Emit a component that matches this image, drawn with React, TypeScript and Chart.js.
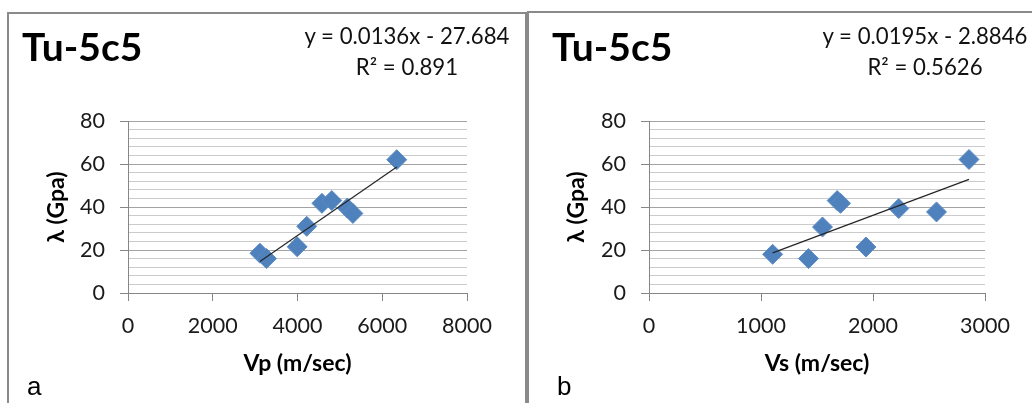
import React, { useEffect, useRef } from "react";
import { Chart, registerables } from "chart.js";

Chart.register(...registerables);

// ---- data ----
const vpValues = [3113, 3268, 3992, 4218, 4576, 4809, 5175, 5307, 6342];
const lambdaByVp = [18.5, 16, 21.5, 31, 41.7, 43, 39.5, 37, 62];
const vsValues = [1104, 1424, 1549, 1680, 1710, 1937, 2230, 2567, 2857];
const lambdaByVs = [18, 16, 30.7, 43, 41.7, 21.4, 39.3, 37.7, 62.1];

const trendVp = [0.0136, -27.684]; // slope, intercept
const trendVs = [0.0195, -2.8846];

const equationA = ["y = 0.0136x - 27.684", "R² = 0.891"];
const equationB = ["y = 0.0195x - 2.8846", "R² = 0.5626"];

const yTickMax = 80;
const yMinorStep = 4;
const yMajorStep = 20;
const xMaxA = 8000;
const xStepA = 2000;
const xMaxB = 3000;
const xStepB = 1000;

const chartTitle = "Tu-5c5";
const yAxisTitle = "λ (Gpa)";
const xTitleA = "Vp (m/sec)";
const xTitleB = "Vs (m/sec)";

// ---- styling ----
const FONT = "Lato, 'Open Sans', sans-serif";
const AXIS = "#868686";
const MAJOR = "#a3a3a3";
const MINOR = "#cbcbcb";
const MARKER = "#4f81bd";
const H = 403;

type PanelCfg = {
  canvasLeft: number;
  canvasWidth: number;
  plotLeft: number; // in canvas coords
  plotRight: number;
  yTitleOffset: number;
  xs: number[];
  ys: number[];
  trend: number[];
  xMax: number;
  xStep: number;
  xTitle: string;
};

function PanelChart({ cfg }: { cfg: PanelCfg }) {
  const ref = useRef<HTMLCanvasElement | null>(null);
  useEffect(() => {
    if (!ref.current) return;
    const pts = cfg.xs.map((x, i) => ({ x, y: cfg.ys[i] }));
    const xmin = Math.min(...cfg.xs);
    const xmax = Math.max(...cfg.xs);
    const trendPts = [xmin, xmax].map((x) => ({ x, y: cfg.trend[0] * x + cfg.trend[1] }));
    const chart = new Chart(ref.current, {
      type: "scatter",
      data: {
        datasets: [
          {
            type: "line",
            data: trendPts,
            borderColor: "#262626",
            borderWidth: 1.2,
            pointRadius: 0,
            fill: false,
            tension: 0,
          } as any,
          {
            type: "scatter",
            data: pts,
            pointStyle: "rectRot",
            pointRadius: 10,
            pointHoverRadius: 10,
            backgroundColor: MARKER,
            borderColor: "#5b8bc4",
            borderWidth: 1,
          } as any,
        ],
      },
      options: {
        animation: false,
        responsive: false,
        maintainAspectRatio: false,
        events: [],
        layout: {
          padding: { left: 0, top: 121, right: cfg.canvasWidth - cfg.plotRight, bottom: 0 },
        },
        plugins: { legend: { display: false }, tooltip: { enabled: false }, title: { display: false } },
        scales: {
          x: {
            type: "linear",
            min: 0,
            max: cfg.xMax,
            afterFit: (s: any) => {
              s.height = H - 293;
            },
            ticks: {
              stepSize: cfg.xStep,
              autoSkip: false,
              maxRotation: 0,
              padding: 12,
              color: "#1a1a1a",
              font: { family: FONT, size: 21.5 },
              callback: (v: any) => String(v),
            },
            grid: { drawOnChartArea: false, drawTicks: true, tickLength: 8, tickColor: AXIS },
            border: { color: AXIS, width: 1 },
            title: {
              display: true,
              text: cfg.xTitle,
              color: "#000",
              font: { family: FONT, size: 23, weight: "bold" },
              padding: { top: 0, bottom: 26 },
            },
          },
          y: {
            type: "linear",
            min: 0,
            max: yTickMax,
            afterFit: (s: any) => {
              s.width = cfg.plotLeft;
            },
            ticks: {
              stepSize: yMinorStep,
              autoSkip: false,
              padding: 15,
              color: "#1a1a1a",
              font: { family: FONT, size: 21.5 },
              callback: (v: any) => (Number(v) % yMajorStep === 0 ? String(v) : ""),
            },
            grid: {
              drawTicks: true,
              tickLength: 8,
              color: (c: any) => (c.tick && c.tick.value % yMajorStep === 0 ? MAJOR : MINOR),
              tickColor: (c: any) =>
                c.tick && c.tick.value % yMajorStep === 0 ? AXIS : "rgba(0,0,0,0)",
            },
            border: { color: AXIS, width: 1 },
            title: {
              display: true,
              text: yAxisTitle,
              color: "#000",
              font: { family: FONT, size: 23, weight: "bold" },
              padding: { top: cfg.yTitleOffset, bottom: 0 },
            },
          },
        },
      } as any,
    });
    return () => chart.destroy();
  }, [cfg]);
  return (
    <canvas
      ref={ref}
      width={cfg.canvasWidth}
      height={H}
      style={{ position: "absolute", left: cfg.canvasLeft, top: 0, width: cfg.canvasWidth, height: H }}
    />
  );
}

const panelA: PanelCfg = {
  canvasLeft: 0,
  canvasWidth: 524,
  plotLeft: 128,
  plotRight: 467,
  yTitleOffset: 43,
  xs: vpValues,
  ys: lambdaByVp,
  trend: trendVp,
  xMax: xMaxA,
  xStep: xStepA,
  xTitle: xTitleA,
};

const panelB: PanelCfg = {
  canvasLeft: 529,
  canvasWidth: 503,
  plotLeft: 120,
  plotRight: 456,
  yTitleOffset: 34,
  xs: vsValues,
  ys: lambdaByVs,
  trend: trendVs,
  xMax: xMaxB,
  xStep: xStepB,
  xTitle: xTitleB,
};

const textBase: React.CSSProperties = {
  position: "absolute",
  fontFamily: FONT,
  color: "#000",
  whiteSpace: "nowrap",
};

function Overlay({ left, eq, eqCenter, letter }: { left: number; eq: string[]; eqCenter: number; letter: string }) {
  return (
    <>
      <div style={{ ...textBase, left: left, top: 23, fontSize: 39, fontWeight: 700, lineHeight: "46.8px" }}>
        {chartTitle}
      </div>
      <div
        style={{
          ...textBase,
          left: eqCenter - 150,
          width: 300,
          top: 21,
          fontSize: 22.2,
          lineHeight: "30.7px",
          textAlign: "center",
          color: "#111",
        }}
      >
        <div>{eq[0]}</div>
        <div>{eq[1]}</div>
      </div>
      <div
        style={{
          ...textBase,
          left: left + 5,
          top: 371,
          fontFamily: "'Liberation Sans', Arial, sans-serif",
          fontSize: 26,
          lineHeight: "31px",
        }}
      >
        {letter}
      </div>
    </>
  );
}

export default function App() {
  return (
    <div
      style={{
        position: "absolute",
        left: 0,
        top: 0,
        width: 1032,
        height: H,
        overflow: "hidden",
        background: "#fff",
      }}
    >
      <div
        style={{
          position: "absolute",
          left: 7,
          top: 12,
          width: 516,
          height: 420,
          borderTop: "2px solid #8a8a8a",
          borderLeft: "2px solid #8a8a8a",
          borderRight: "2px solid #8a8a8a",
        }}
      />
      <div
        style={{
          position: "absolute",
          left: 527,
          top: 11,
          width: 560,
          height: 420,
          borderTop: "2px solid #8a8a8a",
          borderLeft: "2px solid #8a8a8a",
        }}
      />
      <PanelChart cfg={panelA} />
      <PanelChart cfg={panelB} />
      <Overlay left={22} eq={equationA} eqCenter={407} letter="a" />
      <Overlay left={552} eq={equationB} eqCenter={925} letter="b" />
    </div>
  );
}
